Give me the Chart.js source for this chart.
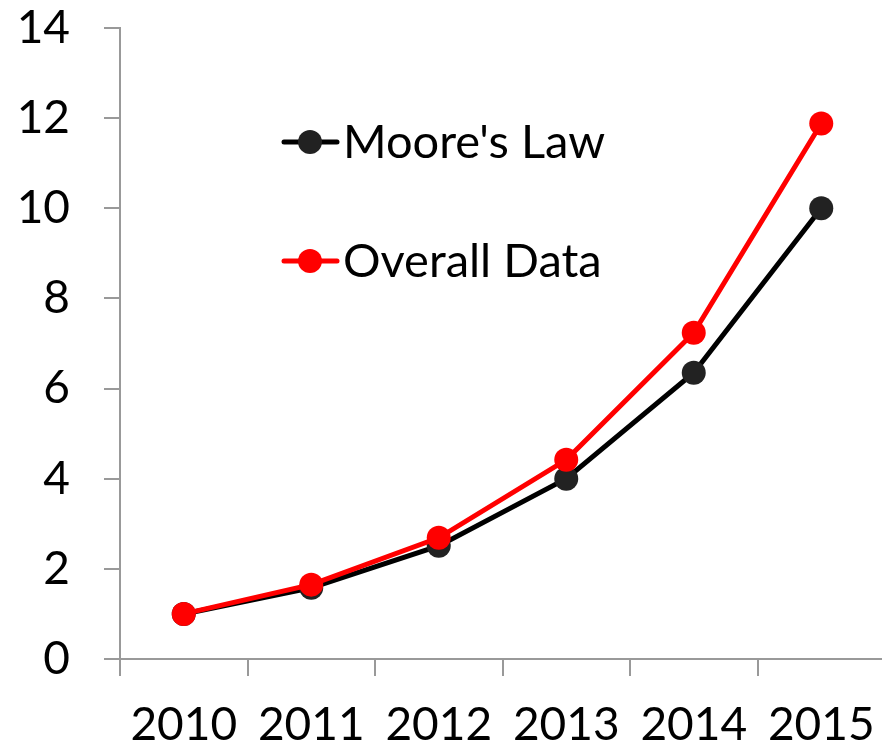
<!DOCTYPE html>
<html>
<head>
<meta charset="utf-8">
<script src="https://cdn.jsdelivr.net/npm/chart.js@4"></script>
<style>
  html, body { margin: 0; padding: 0; overflow: hidden; background: #fff; }
  #wrap { width: 892px; height: 750px; }
</style>
</head>
<body>
<div id="wrap"><canvas id="myChart" width="892" height="750"></canvas></div>
<script>
const years = ['2010', '2011', '2012', '2013', '2014', '2015'];
const mooresLaw = [1.0, 1.58, 2.51, 4.0, 6.35, 10.0];
const overallData = [1.0, 1.65, 2.69, 4.42, 7.24, 11.88];
const yTicks = [0, 2, 4, 6, 8, 10, 12, 14];

const FONT = 'Lato, "Open Sans", sans-serif';
const AXIS = '#999999';

// legend drawn inside the plot, like the original
const insideLegend = {
    id: 'insideLegend',
    afterDatasetsDraw(chart) {
        const ctx = chart.ctx;
        const items = [
            { text: "Moore's Law", line: '#000000', dot: '#222222', y: 142 },
            { text: 'Overall Data', line: '#ff0000', dot: '#ff0000', y: 261 }
        ];
        ctx.save();
        items.forEach(it => {
            ctx.strokeStyle = it.line;
            ctx.lineWidth = 5;
            ctx.lineCap = 'round';
            ctx.beginPath();
            ctx.moveTo(284, it.y);
            ctx.lineTo(337, it.y);
            ctx.stroke();
            ctx.fillStyle = it.dot;
            ctx.beginPath();
            ctx.arc(310, it.y, 12, 0, Math.PI * 2);
            ctx.fill();
            ctx.fillStyle = '#000';
            ctx.font = '47px ' + FONT;
            ctx.textBaseline = 'middle';
            ctx.textAlign = 'left';
            ctx.fillText(it.text, 343, it.y + 1);
        });
        ctx.restore();
    }
};

let myChart = new Chart(document.getElementById('myChart'), {
    type: 'line',
    data: {
        labels: years,
        datasets: [{
            label: 'Overall Data',
            data: overallData,
            borderColor: '#ff0000',
            backgroundColor: '#ff0000',
            pointBackgroundColor: '#ff0000',
            pointBorderWidth: 0,
            pointRadius: 12,
            borderWidth: 5,
            tension: 0,
            clip: false
        }, {
            label: "Moore's Law",
            data: mooresLaw,
            borderColor: '#000000',
            backgroundColor: '#222222',
            pointBackgroundColor: '#222222',
            pointBorderWidth: 0,
            pointRadius: 12,
            borderWidth: 5,
            tension: 0,
            clip: false
        }]
    },
    options: {
        responsive: false,
        animation: false,
        devicePixelRatio: 1,
        layout: { autoPadding: false, padding: { top: 28, left: 0, right: 7, bottom: 0 } },
        plugins: {
            legend: { display: false },
            tooltip: { enabled: false }
        },
        scales: {
            x: {
                offset: true,
                grid: {
                    offset: true,
                    drawOnChartArea: false,
                    drawTicks: true,
                    tickLength: 17,
                    color: AXIS,
                    lineWidth: 2
                },
                border: { color: AXIS, width: 2 },
                ticks: {
                    color: '#000',
                    font: { family: FONT, size: 46 },
                    padding: 22,
                    maxRotation: 0
                },
                afterFit(scale) {
                    scale.height = 91;
                    scale.paddingLeft = 0;
                    scale.paddingRight = 0;
                }
            },
            y: {
                min: 0,
                max: 14,
                afterBuildTicks(scale) {
                    scale.ticks = yTicks.map(v => ({ value: v }));
                },
                grid: {
                    drawOnChartArea: false,
                    drawTicks: true,
                    tickLength: 16,
                    color: AXIS,
                    lineWidth: 2
                },
                border: { color: AXIS, width: 2 },
                ticks: {
                    color: '#000',
                    font: { family: FONT, size: 46 },
                    padding: 34
                },
                afterFit(scale) {
                    scale.width = 120;
                    scale.paddingTop = 0;
                    scale.paddingBottom = 0;
                }
            }
        }
    },
    plugins: [insideLegend]
});
</script>
</body>
</html>
